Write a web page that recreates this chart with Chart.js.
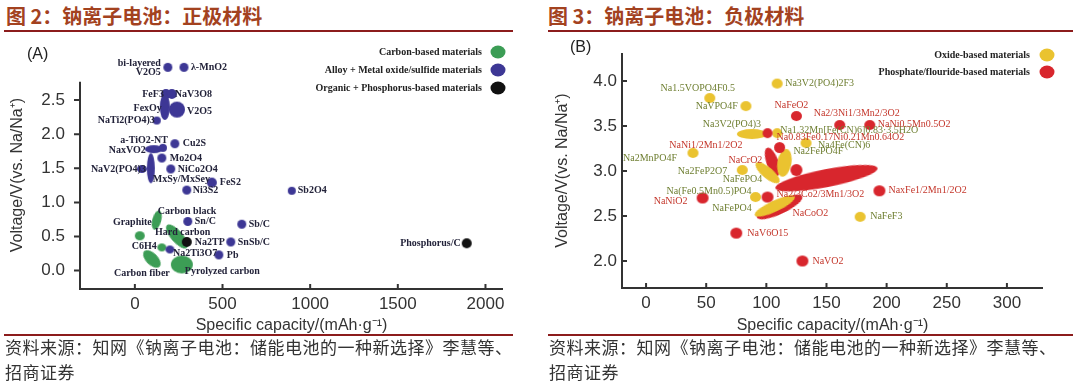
<!DOCTYPE html>
<html>
<head>
<meta charset="utf-8">
<script src="https://cdn.jsdelivr.net/npm/chart.js@4/dist/chart.umd.min.js"></script>
<style>
body { margin: 0; width: 1080px; height: 386px; background: #fff; position: relative; overflow: hidden; font-family: "Noto Sans CJK SC", sans-serif; }
.t { position: absolute; top: 3px; font-size: 20px; font-weight: bold; color: #a3421f; line-height: 26px; white-space: nowrap; }
.rule { position: absolute; height: 2px; background: #8c1c1c; }
.src { position: absolute; top: 335px; font-size: 17px; line-height: 24.5px; color: #333; letter-spacing: 0.5px; white-space: nowrap; }
canvas { position: absolute; }
</style>
</head>
<body>
<div class="t" style="left:6px">图 2：钠离子电池：正极材料</div>
<div class="rule" style="left:4px;width:509px;top:30px"></div>
<canvas id="chartA" width="540" height="299" style="left:0;top:36px"></canvas>
<div class="rule" style="left:4px;width:509px;top:334px"></div>
<div class="src" style="left:5px">资料来源：知网《钠离子电池：储能电池的一种新选择》李慧等、<br>招商证券</div>

<div class="t" style="left:548px">图 3：钠离子电池：负极材料</div>
<div class="rule" style="left:548px;width:525px;top:30px"></div>
<canvas id="chartB" width="535" height="299" style="left:545px;top:36px"></canvas>
<div class="rule" style="left:548px;width:525px;top:334px"></div>
<div class="src" style="left:549px">资料来源：知网《钠离子电池：储能电池的一种新选择》李慧等、<br>招商证券</div>

<script>
// ---- panel A data ----
const groupsA = ['Carbon-based materials', 'Alloy + Metal oxide/sulfide materials', 'Organic + Phosphorus-based materials'];
const namesA = ['Graphite', 'Carbon black', 'Hard carbon', 'C6H4', 'Carbon fiber', 'Pyrolyzed carbon',
  'bi-layered\nV2O5', 'λ-MnO2', 'FeF3', 'NaV3O8', 'FexOy', 'V2O5', 'NaTi2(PO4)3', 'NaxVO2', 'a-TiO2-NT',
  'Cu2S', 'Mo2O4', 'MxSy/MxSey', 'NaV2(PO4)3', 'NiCo2O4', 'FeS2', 'Ni3S2', 'Sb2O4', 'Sn/C', 'Sb/C',
  'SnSb/C', 'Na2Ti3O7', 'Pb', 'Na2TP', 'Phosphorus/C'];
const capA = [28, 125, 240, 154, 97, 268,
  188, 280, 177, 211, 171, 240, 125, 108, 160,
  228, 154, 91, 40, 205, 439, 296, 895, 302, 610,
  547, 200, 479, 296, 1893];
const voltA = [0.51, 0.74, 0.50, 0.34, 0.17, 0.09,
  2.98, 2.98, 2.59, 2.59, 2.40, 2.36, 2.20, 1.78, 1.80,
  1.86, 1.65, 1.50, 1.49, 1.49, 1.29, 1.18, 1.17, 0.72, 0.68,
  0.42, 0.31, 0.23, 0.42, 0.40];
const kindA = [0, 0, 0, 0, 0, 0,
  1, 1, 1, 1, 1, 1, 1, 1, 1,
  1, 1, 1, 1, 1, 1, 1, 1, 1, 1,
  1, 1, 1, 2, 2];
const xTicksA = [0, 500, 1000, 1500, 2000];
const yTicksA = [0, 0.5, 1, 1.5, 2, 2.5];

// ---- panel B data ----
const groupsB = ['Oxide-based materials', 'Phosphate/flouride-based materials'];
const namesB = ['Na1.5VOPO4F0.5', 'NaVPO4F', 'Na3V2(PO4)2F3', 'Na3V2(PO4)3', 'Na1.32Mn[Fe(CN)6]0.83·3.5H2O',
  'Na4Fe(CN)6', 'Na2MnPO4F', 'Na2FeP2O7', 'Na(Fe0.5Mn0.5)PO4', 'NaFeF3',
  'NaCrO2', 'Na2FePO4F', 'NaFePO4', 'Na0.83Fe0.17Ni0.21Mn0.64O2', 'NaNi1/2Mn1/2O2',
  'NaFeO2', 'Na2/3Ni1/3Mn2/3O2', 'NaNi0.5Mn0.5O2', '', '',
  'NaNiO2', 'Na2/3Co2/3Mn1/3O2', 'NaxFe1/2Mn1/2O2', 'NaCoO2', 'NaFePO4', 'NaV6O15', 'NaVO2'];
const capB = [53, 83, 109, 88, 109,
  133, 39, 80, 91, 178,
  105, 115, 101, 101, 111,
  125, 161, 186, 125, 150,
  47, 101, 194, 111, 107, 75, 130];
const voltB = [3.81, 3.72, 3.97, 3.41, 3.42,
  3.31, 3.20, 3.01, 2.71, 2.49,
  3.10, 3.09, 2.98, 3.42, 3.26,
  3.61, 3.51, 3.51, 3.01, 2.92,
  2.70, 2.71, 2.78, 2.60, 2.61, 2.31, 2.00];
const kindB = [0, 0, 0, 0, 0,
  0, 0, 0, 0, 0,
  1, 0, 0, 1, 1,
  1, 1, 1, 1, 1,
  1, 1, 1, 1, 0, 1, 1];
const xTicksB = [0, 50, 100, 150, 200, 250, 300];
const yTicksB = [2, 2.5, 3, 3.5, 4];

// ---- styles: blob size [rx, ry, rotation] and label offset [dx, dy, align] ----
const shapeA = [[5, 4.5, 0], [4.5, 10, 15], [15, 6, 49], [4.5, 4, 0], [11, 6, 45], [11, 9, 0],
  [4.5, 4.5, 0], [4.5, 4.5, 0], [5, 5, 0], [5, 5, 0], [5, 13, 0], [8, 8, 0], [4, 4, 0], [9, 4, 0], [4, 4, 0],
  [4.5, 4.5, 0], [4.5, 4.5, 0], [4, 15, 0], [5, 4, 0], [4.5, 4.5, 0], [5, 5, 0], [4.5, 4.5, 0], [4, 4, 0], [4.5, 4.5, 0], [4.5, 4.5, 0],
  [4.5, 4.5, 0], [4.5, 4, 0], [4.5, 4.5, 0], [5, 5, 0], [5, 5, 0]];
const labelA = [[12, -13, 'right'], [1, -9, 'left'], [-22, -4, 'left'], [-5, -1, 'right'], [-10, 14, 'center'], [3, 7, 'left'],
  [-7, -4, 'right'], [7, 0, 'left'], [-2, 0, 'right'], [3, 0, 'left'], [-3, 2, 'right'], [10, 2, 'left'], [-2, 0, 'right'], [-8, 1, 'right'], [5, -7, 'right'],
  [8, 0, 'left'], [8, 0, 'left'], [2, 11, 'left'], [4, 0, 'right'], [7, 0, 'left'], [8, 0, 'left'], [6, 0, 'left'], [6, 0, 'left'], [7, 0, 'left'], [7, 0, 'left'],
  [7, 0, 'left'], [3, 4, 'left'], [8, 1, 'left'], [8, 0, 'left'], [-6, 0, 'right']];
const shapeB = [[5.5, 5, 0], [5.5, 5, 0], [5.5, 5, 0], [15, 5, 0], [5, 5, 0],
  [5.5, 5, 0], [5.5, 5, 0], [5.5, 5, 0], [5.5, 5, 0], [5.5, 5, 0],
  [6, 15, -20], [7, 14, 10], [15, 5.5, 40], [5, 5, 0], [5.5, 5.5, 0],
  [5.5, 5, 0], [5.5, 5, 0], [5.5, 5, 0], [6, 6, 0], [52, 9, -11],
  [6, 5.5, 0], [6, 5.5, 0], [6, 5.5, 0], [25, 7, -25], [22, 5.5, -25], [6, 5.5, 0], [6, 5.5, 0]];
const labelB = [[-12, -10, 'center'], [-8, 0, 'right'], [8, 0, 'left'], [-20, -10, 'center'], [3, -3, 'left'],
  [12, 2, 'left'], [-16, 5, 'right'], [-15, 1, 'right'], [-4, -6, 'right'], [10, 0, 'left'],
  [-10, -2, 'right'], [9, -11, 'left'], [-25, 7, 'center'], [9, 4, 'left'], [-37, -2, 'right'],
  [-5, -11, 'center'], [17, -12, 'center'], [8, -1, 'left'], null, null,
  [-15, 3, 'right'], [9, -3, 'left'], [9, 0, 'left'], [13, 6, 'left'], [-23, 2, 'right'], [11, 0, 'left'], [10, 0, 'left']];

const colorsA = ['#3c9d55', '#3d3795', '#111111'];
const colorsB = ['#eac330', '#d8262d'];
const textB = ['#6f7f32', '#c4372c'];

function blob(rx, ry, color) {
  const c = document.createElement('canvas');
  c.width = Math.ceil(2 * rx + 2);
  c.height = Math.ceil(2 * ry + 2);
  const g = c.getContext('2d');
  g.fillStyle = color;
  g.beginPath();
  g.ellipse(c.width / 2, c.height / 2, rx, ry, 0, 0, Math.PI * 2);
  g.fill();
  return c;
}

// axis lines that stop short of the plot top, inward x ticks
const frame = {
  id: 'frame',
  beforeDatasetsDraw(chart, args, o) {
    const { ctx, scales: { x, y } } = chart;
    const x0 = x.left, y0 = y.bottom;
    ctx.save();
    ctx.strokeStyle = '#333';
    ctx.lineWidth = 2;
    ctx.beginPath();
    ctx.moveTo(x0, y.getPixelForValue(o.yTop));
    ctx.lineTo(x0, y0);
    ctx.lineTo(x.right, y0);
    x.ticks.forEach(t => {
      const px = x.getPixelForValue(t.value);
      ctx.moveTo(px, y0);
      ctx.lineTo(px, y0 - 5);
    });
    y.ticks.forEach(t => {
      const py = y.getPixelForValue(t.value);
      ctx.moveTo(x0, py);
      ctx.lineTo(x0 + o.yTick, py);
    });
    ctx.stroke();
    ctx.restore();
  }
};

const markLabels = {
  id: 'markLabels',
  afterDatasetsDraw(chart, args, o) {
    const ctx = chart.ctx;
    const pts = chart.getDatasetMeta(0).data;
    ctx.save();
    ctx.font = o.font;
    ctx.textBaseline = 'middle';
    o.text.forEach((txt, i) => {
      const p = o.pos[i];
      if (!txt || !p) return;
      ctx.fillStyle = o.color(i);
      ctx.textAlign = p[2];
      txt.split('\n').forEach((line, k) => ctx.fillText(line, pts[i].x + p[0], pts[i].y + p[1] + k * 9));
    });
    ctx.restore();
  }
};

const keyBox = {
  id: 'keyBox',
  afterDraw(chart, args, o) {
    const ctx = chart.ctx;
    ctx.save();
    ctx.font = o.font;
    ctx.textAlign = 'right';
    ctx.textBaseline = 'middle';
    o.items.forEach((txt, i) => {
      const y = o.y + i * o.step;
      ctx.fillStyle = '#222';
      ctx.fillText(txt, o.x, y);
      ctx.fillStyle = o.colors[i];
      ctx.beginPath();
      ctx.ellipse(o.x + o.gap, y, 7.5, 6.5, 0, 0, Math.PI * 2);
      ctx.fill();
    });
    ctx.font = '16px "Liberation Sans"';
    ctx.textAlign = 'left';
    ctx.fillStyle = '#222';
    ctx.fillText(o.tag, o.tagX, o.tagY);
    ctx.restore();
  }
};

Chart.defaults.font.family = '"Liberation Sans", Arial, sans-serif';
Chart.defaults.color = '#333';

function makeChart(id, d) {
  const sprites = d.kind.map((k, i) => blob(d.shape[i][0], d.shape[i][1], d.colors[k]));
  return new Chart(document.getElementById(id), {
    type: 'scatter',
    data: {
      datasets: [{
        data: d.cap.map((c, i) => ({ x: c, y: d.volt[i] })),
        pointStyle: ctx => sprites[ctx.dataIndex],
        pointRadius: 5,
        rotation: ctx => d.shape[ctx.dataIndex][2],
        clip: false
      }]
    },
    options: {
      responsive: false,
      animation: false,
      events: [],
      layout: { padding: { top: d.padTop, right: 37, left: 0, bottom: 0 } },
      plugins: {
        legend: { display: false },
        tooltip: { enabled: false },
        frame: { yTop: d.yTop, yTick: d.yTick },
        markLabels: d.labels,
        keyBox: d.key
      },
      scales: {
        x: {
          type: 'linear', min: d.xMin, max: d.xMax,
          afterBuildTicks: s => { s.ticks = d.xTicks.map(v => ({ value: v })); },
          afterFit: s => { s.height = d.xHeight; },
          grid: { display: false, drawTicks: false },
          border: { display: false },
          ticks: { font: { size: 17 }, color: '#333', padding: 5, callback: v => String(v) },
          title: { display: true, text: 'Specific capacity/(mAh·g⁻¹)', font: { size: 16 }, color: '#333', padding: 0 }
        },
        y: {
          type: 'linear', min: d.yMin, max: d.yMax,
          afterBuildTicks: s => { s.ticks = d.yTicks.map(v => ({ value: v })); },
          afterFit: s => { s.width = d.yWidth; },
          grid: { display: false, drawTicks: false },
          border: { display: false },
          ticks: { font: { size: 17 }, color: '#333', padding: d.yPad, callback: v => v.toFixed(1) },
          title: { display: true, text: 'Voltage/V(vs. Na/Na⁺)', font: { size: 16 }, color: '#333', padding: { top: 8, bottom: 0 } }
        }
      }
    },
    plugins: [frame, markLabels, keyBox]
  });
}

makeChart('chartA', {
  cap: capA, volt: voltA, kind: kindA, shape: shapeA, colors: colorsA,
  xMin: -313, xMax: 2100, yMin: -0.27, yMax: 3.07, yTop: 2.77,
  xTicks: xTicksA, yTicks: yTicksA,
  padTop: 4, xHeight: 46, yWidth: 80, yPad: 15, yTick: -6,
  labels: { text: namesA, pos: labelA, font: 'bold 10px "Liberation Serif"', color: () => '#23233a' },
  key: { items: groupsA, colors: colorsA, font: 'bold 10px "Liberation Serif"', x: 482, gap: 16, y: 16, step: 18, tag: '(A)', tagX: 27, tagY: 19 }
});

makeChart('chartB', {
  cap: capB, volt: voltB, kind: kindB, shape: shapeB, colors: colorsB,
  xMin: -20, xMax: 330, yMin: 1.7, yMax: 4.31, yTop: 4.31,
  xTicks: xTicksB, yTicks: yTicksB,
  padTop: 17, xHeight: 47, yWidth: 77, yPad: 5, yTick: 5,
  labels: { text: namesB, pos: labelB, font: '10px "Liberation Serif"', color: i => textB[kindB[i]] },
  key: { items: groupsB, colors: colorsB, font: 'bold 10px "Liberation Serif"', x: 485, gap: 17, y: 19, step: 17, tag: '(B)', tagX: 25, tagY: 12 }
});
</script>
</body>
</html>
